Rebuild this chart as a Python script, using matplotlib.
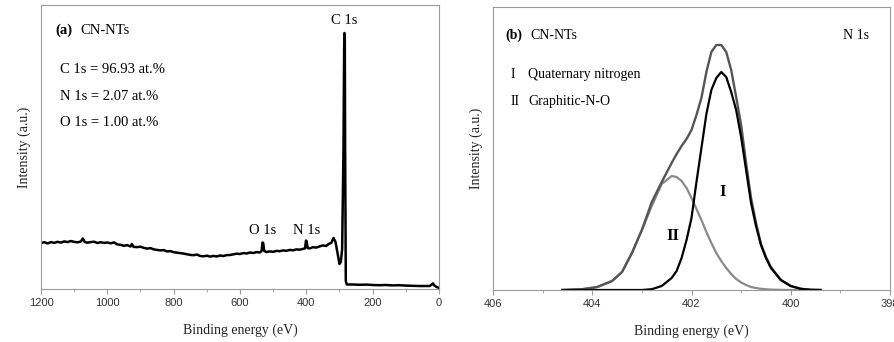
import matplotlib
matplotlib.use("Agg")
import matplotlib.pyplot as plt
from matplotlib.ticker import MultipleLocator

# (a) survey spectrum, binding energy (eV) and intensity (a.u.)
survey_be = [1200, 1190, 1180, 1170, 1160, 1150, 1140, 1130, 1120, 1110,
             1100, 1090, 1080, 1074, 1068, 1060, 1050, 1040, 1030, 1020,
             1010, 1000, 990, 980, 970, 960, 950, 940, 930, 926,
             921, 910, 900, 890, 880, 870, 860, 850, 840, 830,
             820, 810, 800, 790, 780, 770, 760, 750, 740, 730,
             720, 710, 700, 690, 680, 670, 660, 650, 640, 630,
             620, 610, 600, 590, 580, 570, 560, 550, 540, 535,
             532, 530, 527, 520, 510, 500, 490, 480, 470, 460,
             450, 440, 430, 420, 410, 404, 401, 399, 396, 390,
             380, 370, 360, 350, 340, 332, 325, 318, 312, 306,
             300, 296, 292, 288, 286, 285, 284, 283, 281, 278,
             260, 240, 220, 200, 180, 160, 140, 120, 100, 80,
             60, 40, 28, 22, 18, 14, 8, 0]
survey_int = [46, 46.8, 45.6, 46.9, 46.1, 47.2, 46.4, 47.6, 46.9, 48.0,
              47.1, 46.7, 47.4, 50.5, 47.0, 46.3, 46.9, 47.3, 46.0, 46.8,
              46.1, 46.5, 45.7, 46.6, 44.6, 44.1, 43.2, 43.9, 42.5, 45.0,
              42.1, 41.9, 42.3, 41.1, 40.4, 40.9, 39.6, 39.1, 38.6, 38.9,
              37.6, 37.9, 36.8, 36.4, 35.9, 35.4, 34.7, 34.1, 33.8, 34.5,
              33.0, 32.7, 33.3, 32.4, 33.1, 32.5, 33.5, 33.0, 33.9, 34.0,
              34.6, 35.3, 35.0, 35.9, 35.5, 36.5, 36.0, 36.9, 36.5, 38.0,
              46.5, 46.0, 38.0, 37.0, 37.6, 37.2, 38.1, 37.8, 38.6, 38.2,
              39.1, 38.7, 39.6, 39.3, 40.1, 40.6, 48.5, 47.5, 41.0, 40.6,
              41.8, 41.4, 42.6, 43.6, 43.0, 45.2, 46.0, 51.0, 47.0, 36.0,
              25.0, 27.0, 40.0, 140.0, 240.0, 256.0, 250.0, 140.0, 8.0, 4.5,
              4.5, 4.2, 4.4, 4.0, 3.8, 4.0, 3.6, 3.8, 3.4, 3.2,
              3.0, 3.0, 3.0, 4.6, 5.6, 3.5, 2.2, 1.0]

# (b) N 1s high resolution spectrum
n1s_be = [404.6, 404.2, 403.9, 403.6, 403.4, 403.2, 403.0, 402.8, 402.6, 402.4,
          402.3, 402.2, 402.1, 402.0, 401.9, 401.8, 401.7, 401.6, 401.5, 401.4,
          401.3, 401.2, 401.1, 401.0, 400.9, 400.8, 400.7, 400.6, 400.5, 400.4,
          400.2, 400.0, 399.8, 399.6, 399.4]
n1s_envelope = [0, 0.8, 3, 9, 18, 37, 60, 88, 108, 127,
                136, 144, 151, 160, 175, 192, 218, 238, 245, 245,
                238, 220, 193, 165, 127, 92, 67, 46, 33, 23,
                10, 4, 1.2, 0.2, 0]
peak_quaternary = [0, 0, 0, 0, 0, 0, 0, 0.8, 4, 12,
                   19, 32, 50, 72, 108, 142, 176, 200, 212, 218,
                   213, 198, 180, 153, 120, 87, 64, 45, 32, 22,
                   10, 4, 1.2, 0.2, 0]
peak_graphitic_no = [0, 0.8, 3, 9, 18, 37, 60, 84, 106, 114,
                     113, 109, 102, 92, 81, 70, 58, 47, 37, 29,
                     22, 16, 11, 7.5, 5, 3, 2, 1.2, 0.8, 0.4,
                     0.1, 0, 0, 0, 0]

serif = "Liberation Serif"
sans = "Liberation Sans"
spine_col = "#9a9a9a"

fig = plt.figure(figsize=(8.95, 3.42), dpi=100)
ax1 = fig.add_axes([41/895, 1-289/342, 398/895, 284/342])
ax2 = fig.add_axes([493/895, 1-290/342, 397/895, 283/342])

# survey
ax1.plot(survey_be, survey_int, color="black", lw=1.8)
ax1.set_xlim(1200, 0)
ax1.set_ylim(0, 284)
ax1.xaxis.set_major_locator(MultipleLocator(200))
ax1.xaxis.set_minor_locator(MultipleLocator(100))

ax1.text(0.035, 0.91, "(a)", transform=ax1.transAxes, family=serif,
         fontsize=10.5, fontweight="bold", va="center")
ax1.text(0.1, 0.91, "CN-NTs", transform=ax1.transAxes, family=serif,
         fontsize=10.5, va="center")
comp = ["C 1s = 96.93 at.%", "N 1s = 2.07 at.%", "O 1s = 1.00 at.%"]
for i, s in enumerate(comp):
    ax1.text(0.048, 0.773 - i*0.094, s, transform=ax1.transAxes,
             family=serif, fontsize=10.5, va="center")
ax1.text(285, 268, "C 1s", family=serif, fontsize=10.5, ha="center", va="center")
ax1.text(532, 58, "O 1s", family=serif, fontsize=10.5, ha="center", va="center")
ax1.text(400, 58, "N 1s", family=serif, fontsize=10.5, ha="center", va="center")

# N 1s
ax2.plot(n1s_be, peak_graphitic_no, color="#8a8a8a", lw=1.6)
ax2.plot(n1s_be, n1s_envelope, color="#555555", lw=1.7)
ax2.plot(n1s_be, peak_quaternary, color="black", lw=1.6)
ax2.set_xlim(406, 398)
ax2.set_ylim(0, 283)
ax2.xaxis.set_major_locator(MultipleLocator(2))
ax2.xaxis.set_minor_locator(MultipleLocator(1))

ax2.text(0.03, 0.9, "(b)", transform=ax2.transAxes, family=serif,
         fontsize=10, fontweight="bold", va="center")
ax2.text(0.093, 0.9, "CN-NTs", transform=ax2.transAxes, family=serif,
         fontsize=10, va="center")
ax2.text(0.915, 0.9, "N 1s", transform=ax2.transAxes, family=serif,
         fontsize=10, ha="center", va="center")
ax2.text(0.045, 0.76, "I", transform=ax2.transAxes, family=serif,
         fontsize=10, va="center")
ax2.text(0.088, 0.76, "Quaternary nitrogen", transform=ax2.transAxes,
         family=serif, fontsize=10, va="center")
ax2.text(0.045, 0.665, "II", transform=ax2.transAxes, family=serif,
         fontsize=10, va="center")
ax2.text(0.088, 0.665, "Graphitic-N-O", transform=ax2.transAxes,
         family=serif, fontsize=10, va="center")
ax2.text(401.38, 98, "I", family=serif, fontsize=12, fontweight="bold",
         ha="center", va="center")
ax2.text(402.38, 54, "II", family=serif, fontsize=12, fontweight="bold",
         ha="center", va="center")

for ax in (ax1, ax2):
    for sp in ax.spines.values():
        sp.set_color(spine_col)
        sp.set_linewidth(0.8)
    ax.set_yticks([])
    ax.tick_params(axis="x", which="both", direction="out", color=spine_col,
                   labelcolor="#333333", labelsize=8, pad=3)
    ax.tick_params(axis="x", which="major", length=3.5)
    ax.tick_params(axis="x", which="minor", length=2.5)
    for lab in ax.get_xticklabels():
        lab.set_family(sans)
    ax.set_xlabel("Binding energy (eV)", family=serif, fontsize=10,
                  color="#222222", labelpad=11)
    ax.set_ylabel("Intensity (a.u.)", family=serif, fontsize=10,
                  color="#222222", labelpad=7)

fig.savefig("out.png", dpi=100)
